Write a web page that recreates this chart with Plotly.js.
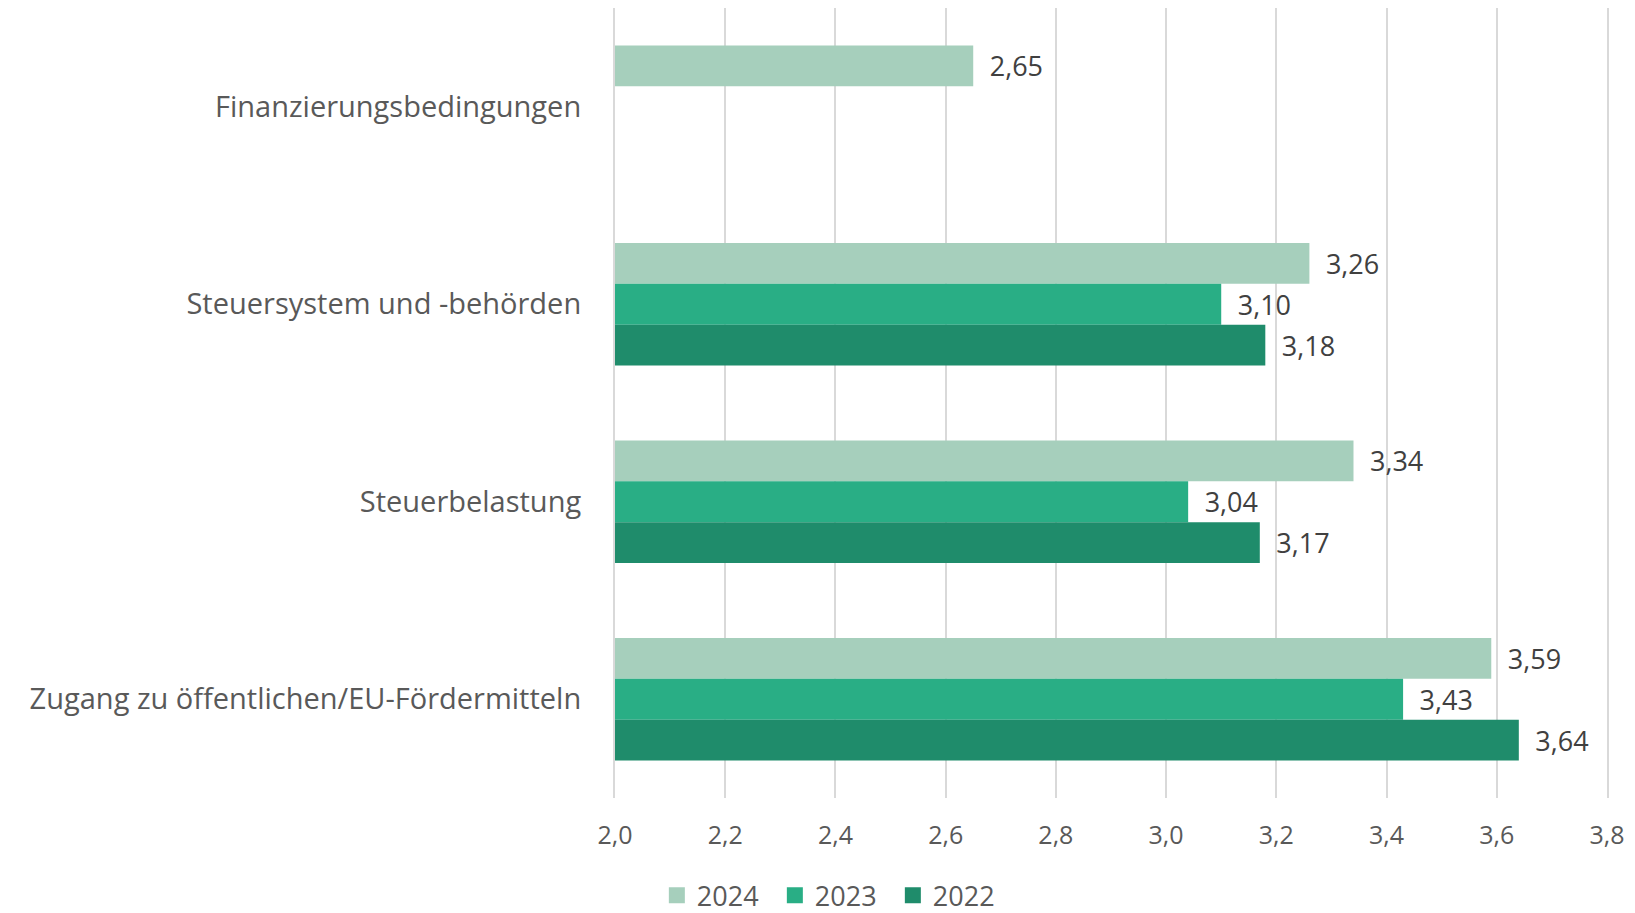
<!DOCTYPE html>
<html>
<head>
<meta charset="utf-8">
<script src="https://cdn.plot.ly/plotly-3.0.1.min.js"></script>
<style>
  html, body { margin: 0; padding: 0; background: #ffffff; }
  #chart { width: 1635px; height: 913px; }
</style>
</head>
<body>
<div id="chart"></div>
<script>
// categories top to bottom
const categories = [
  'Finanzierungsbedingungen',
  'Steuersystem und -behörden',
  'Steuerbelastung',
  'Zugang zu öffentlichen/EU-Fördermitteln'
];

const years = ['2024', '2023', '2022'];
const values2024 = [2.65, 3.26, 3.34, 3.59];
const values2023 = [null, 3.10, 3.04, 3.43];
const values2022 = [null, 3.18, 3.17, 3.64];

const xTicks = [2.0, 2.2, 2.4, 2.6, 2.8, 3.0, 3.2, 3.4, 3.6, 3.8];

const colors = ['#a6cfbc', '#29ae85', '#1f8c6b'];
const FONT = 'Open Sans, Noto Sans, sans-serif';
const GRID = '#d9d9d9';

const series = [values2024, values2023, values2022];

const barTraces = series.map((vals, i) => ({
  type: 'bar',
  orientation: 'h',
  name: years[i],
  legendgroup: years[i],
  showlegend: false,
  y: categories,
  x: vals,
  marker: { color: colors[i] },
  text: vals.map(v => v == null ? '' : '\u2002' + v.toFixed(2).replace('.', ',')),
  textposition: 'outside',
  constraintext: 'none',
  cliponaxis: false,
  textfont: { family: FONT, size: 27, color: '#404040' },
  hoverinfo: 'x+name'
}));

// legend-only entries so the swatches are plain squares
const legendTraces = years.map((yr, i) => ({
  type: 'scatter',
  mode: 'markers',
  name: yr,
  legendgroup: yr,
  x: [null],
  y: [null],
  marker: { symbol: 'square', size: 21, color: colors[i] },
  hoverinfo: 'skip'
}));

const layout = {
  barmode: 'group',
  bargap: 0.38,
  bargroupgap: 0,
  separators: ',.',
  font: { family: FONT, size: 27, color: '#595959' },
  paper_bgcolor: '#ffffff',
  plot_bgcolor: '#ffffff',
  margin: { l: 615, r: 28, t: 8, b: 115, autoexpand: false },
  xaxis: {
    range: [2.0, 3.8],
    tickvals: xTicks,
    ticktext: xTicks.map(v => v.toFixed(1).replace('.', ',')),
    showgrid: true,
    gridcolor: GRID,
    gridwidth: 2,
    zeroline: false,
    showline: false,
    ticklabelstandoff: 20,
    tickfont: { family: FONT, size: 25, color: '#595959' }
  },
  yaxis: {
    autorange: 'reversed',
    showgrid: false,
    zeroline: false,
    showline: true,
    mirror: true,
    linecolor: GRID,
    linewidth: 2,
    ticklabelstandoff: 26,
    tickfont: { family: FONT, size: 29, color: '#595959' }
  },
  legend: {
    orientation: 'h',
    xref: 'container',
    yref: 'container',
    x: 0.51,
    xanchor: 'center',
    y: 0.019,
    yanchor: 'middle',
    entrywidth: 73,
    font: { family: FONT, size: 27, color: '#595959' },
    itemwidth: 30,
    traceorder: 'normal'
  },
  showlegend: true
};

Plotly.newPlot('chart', barTraces.concat(legendTraces), layout, { displayModeBar: false, responsive: false });
</script>
</body>
</html>
